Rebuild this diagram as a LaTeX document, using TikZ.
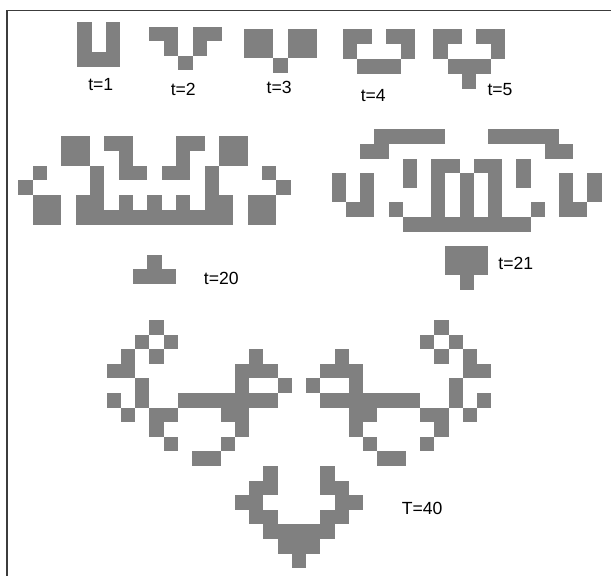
\documentclass[tikz,border=0pt]{standalone}
\usepackage{fontspec}
\setmainfont{Liberation Sans}
\definecolor{cellgray}{RGB}{128,128,128}
\definecolor{framegray}{RGB}{60,60,60}
\tikzset{
  cell/.style={fill=cellgray},
  lbl/.style={inner sep=0pt, anchor=center, font=\fontsize{17.6}{20}\selectfont},
  frame/.style={draw=framegray, line width=1.5pt}
}
\newcommand\crow[2]{\foreach \cc in {#2} {\fill[cell] (\cc,#1) rectangle ++(1,1);}}
\begin{document}
\begin{tikzpicture}[x=1pt,y=-1pt]
\useasboundingbox (0,0) rectangle (611,576);
\fill[white] (0,0) rectangle (611,576);
% frame
\coordinate (fTL) at (6.8,10.7);
\coordinate (fTR) at (611,10.7);
\coordinate (fBL) at (6.8,576);
\draw[frame] (fTR) -- (fTL) -- (fBL);
% t=1
\begin{scope}[shift={(77.3pt,-22.3pt)},x=14.33pt,y=-15pt]
\crow{0}{0,2}
\crow{1}{0,2}
\crow{2}{0,1,2}
\end{scope}
% t=2
\begin{scope}[shift={(149.3pt,-26.7pt)},x=14.47pt,y=-14.5pt]
\crow{0}{0,1,3,4}
\crow{1}{1,3}
\crow{2}{2}
\end{scope}
% t=3
\begin{scope}[shift={(244.3pt,-29.3pt)},x=14.5pt,y=-14.5pt]
\crow{0}{0,1,3,4}
\crow{1}{0,1,3,4}
\crow{2}{2}
\end{scope}
% t=4
\begin{scope}[shift={(342.7pt,-29.3pt)},x=14.5pt,y=-15pt]
\crow{0}{0,1,3,4}
\crow{1}{0,4}
\crow{2}{1,2,3}
\end{scope}
% t=5
\begin{scope}[shift={(433.3pt,-29.3pt)},x=14.33pt,y=-15pt]
\crow{0}{0,1,3,4}
\crow{1}{0,4}
\crow{2}{1,2,3}
\crow{3}{2}
\end{scope}
% t=20
\begin{scope}[shift={(18.3pt,-136pt)},x=14.33pt,y=-14.83pt]
\crow{0}{3,4,6,7,11,12,14,15}
\crow{1}{3,4,7,11,14,15}
\crow{2}{1,5,7,8,10,11,13,17}
\crow{3}{0,5,13,18}
\crow{4}{1,2,4,5,7,9,11,13,14,16,17}
\crow{5}{1,2,4,5,...,14,16,17}
\crow{8}{9}
\crow{9}{8,9,10}
\end{scope}
% t=21
\begin{scope}[shift={(331.7pt,-129.3pt)},x=14.2pt,y=-14.6pt]
\crow{0}{3,4,...,7,11,12,...,15}
\crow{1}{2,3,15,16}
\crow{2}{5,7,8,10,11,13}
\crow{3}{0,2,5,7,9,11,13,16,18}
\crow{4}{0,2,7,9,11,16,18}
\crow{5}{1,2,4,7,9,11,14,16,17}
\crow{6}{5,6,...,13}
\crow{8}{8,9,10}
\crow{9}{8,9,10}
\crow{10}{9}
\end{scope}
% T=40
\begin{scope}[shift={(106.7pt,-320pt)},x=14.25pt,y=-14.6pt]
\crow{0}{3,23}
\crow{1}{2,4,22,24}
\crow{2}{1,3,10,16,23,25}
\crow{3}{0,1,9,10,11,15,16,17,25,26}
\crow{4}{2,9,12,14,17,24}
\crow{5}{0,2,5,6,...,11,15,16,...,21,24,26}
\crow{6}{1,3,4,8,9,17,18,22,23,25}
\crow{7}{3,9,17,23}
\crow{8}{4,8,18,22}
\crow{9}{6,7,19,20}
\crow{10}{11,15}
\crow{11}{10,11,15,16}
\crow{12}{9,10,16,17}
\crow{13}{10,11,15,16}
\crow{14}{11,12,...,15}
\crow{15}{12,13,14}
\crow{16}{13}
\end{scope}
% labels
\node[lbl] (l1) at (100.8,85) {t=1};
\node[lbl] (l2) at (183.3,89) {t=2};
\node[lbl] (l3) at (279.2,87) {t=3};
\node[lbl] (l4) at (373.3,95.8) {t=4};
\node[lbl] (l5) at (500,90) {t=5};
\node[lbl] (l20) at (221.3,278.3) {t=20};
\node[lbl] (l21) at (515.8,263.3) {t=21};
\node[lbl] (l40) at (422.2,508.3) {T=40};
\end{tikzpicture}
\end{document}
